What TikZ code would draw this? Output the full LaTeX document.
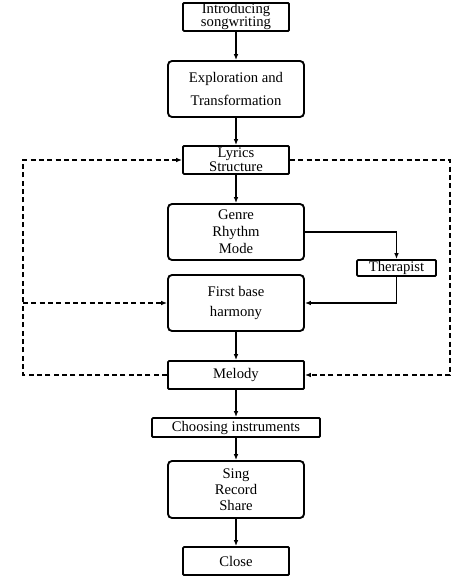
\documentclass[tikz,border=0pt]{standalone}
\usepackage{fontspec}
\setmainfont{Liberation Serif}
\usetikzlibrary{arrows.meta}
\begin{document}
\begin{tikzpicture}[x=0.75pt,y=-0.75pt,
  box/.style={draw,line width=1.4pt,inner sep=0pt,align=center,rounded corners=0.8pt,font=\fontsize{11}{11}\selectfont},
  rbox/.style={box,rounded corners=3pt},
  sq/.style={box},
  arr/.style={line width=1.2pt,-{Latex[length=4.5pt,width=3.5pt]}},
  darr/.style={line width=1.2pt,dash pattern=on 3.75pt off 2.5pt,-{Latex[length=4.5pt,width=3.5pt]}}]
\useasboundingbox (0,0) rectangle (474,580);
\node[sq,minimum width=79.5pt,minimum height=21pt,font=\fontsize{11}{9.75}\selectfont] (intro) at (236,17) {Introducing\\songwriting};
\node[rbox,minimum width=102pt,minimum height=42pt,font=\fontsize{11}{17.25}\selectfont] (explo) at (236,89) {Exploration and\\Transformation};
\node[sq,minimum width=79.5pt,minimum height=21pt,font=\fontsize{11}{9}\selectfont] (lyrics) at (236,160) {Lyrics\\Structure};
\node[rbox,minimum width=102pt,minimum height=42pt,font=\fontsize{11}{12.75}\selectfont] (genre) at (236,232) {Genre\\Rhythm\\Mode};
\node[sq,minimum width=59.25pt,minimum height=12pt] (ther) at (396.5,268) {Therapist};
\node[rbox,minimum width=102pt,minimum height=42pt,font=\fontsize{11}{15}\selectfont] (first) at (236,303) {First base\\harmony};
\node[sq,minimum width=102pt,minimum height=21pt] (melody) at (236,375) {Melody};
\node[sq,minimum width=126pt,minimum height=14.25pt] (choose) at (236,427.5) {Choosing instruments};
\node[rbox,minimum width=102pt,minimum height=42.75pt,font=\fontsize{11}{12}\selectfont] (sing) at (236,489.5) {Sing\\Record\\Share};
\node[sq,minimum width=79.5pt,minimum height=21pt] (close) at (236,561) {Close};
\coordinate (L) at (23,0);
\coordinate (R) at (450,0);
\draw[arr] (intro) -- (explo);
\draw[arr] (explo) -- (lyrics);
\draw[arr] (lyrics) -- (genre);
\draw[arr] (genre.east) -| (ther.north);
\draw[arr] (ther.south) |- (first.east);
\draw[arr] (first) -- (melody);
\draw[arr] (melody) -- (choose);
\draw[arr] (choose) -- (sing);
\draw[arr] (sing) -- (close);
\draw[darr] (melody.west) -- (melody.west -| L) -- (lyrics.west -| L) -- (lyrics.west);
\draw[darr] (first.west -| L) -- (first.west);
\draw[darr] (lyrics.east) -- (lyrics.east -| R) -- (melody.east -| R) -- (melody.east);
\end{tikzpicture}
\end{document}
